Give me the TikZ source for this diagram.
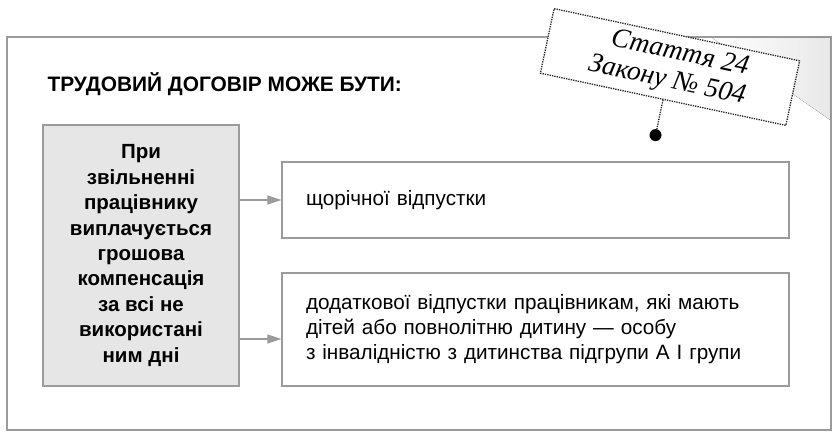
\documentclass[tikz,border=0pt]{standalone}
\usepackage{fontspec}
\setmainfont{Liberation Sans}
\newfontfamily\stampfont{Liberation Serif}
\usetikzlibrary{positioning}
\usetikzlibrary{arrows.meta,calc}
\definecolor{framegray}{RGB}{155,155,155}
\definecolor{boxgray}{RGB}{230,230,231}
\tikzset{
  frame/.style={draw=framegray, line width=1.3pt},
  leftbox/.style={frame, fill=boxgray, minimum width=196pt, minimum height=261pt,
    align=center, font=\fontsize{20.5}{25.4}\selectfont\bfseries},
  rightbox/.style={frame, fill=white, text width=459pt, inner xsep=24pt,
    align=left, font=\fontsize{20.7}{25}\selectfont},
  stampbox/.style={draw=black!85, line width=1.3pt, dash pattern=on 1.3pt off 1.1pt,
    fill=white, minimum width=251pt, minimum height=66pt, align=center,
    font=\fontsize{27.5}{29}\selectfont\stampfont\itshape},
  arr/.style={draw=framegray, line width=1.2pt, -{Triangle[length=14pt,width=9pt]}}
}
\begin{document}
\begin{tikzpicture}[x=1pt,y=-1pt]
  \useasboundingbox (0,0) rectangle (839,440);
  % outer frame and the shaded corner
  \draw[frame] (7,37) rectangle (831,430);
  \fill[left color=white, right color=black!9] (712,37.7) -- (830.3,37.7) -- (830.3,120) -- cycle;

  \node[anchor=west, font=\fontsize{20.9}{24}\selectfont\bfseries] (title) at (44,84)
    {ТРУДОВИЙ ДОГОВІР МОЖЕ БУТИ:};

  \node[leftbox] (comp) at (141,255.5)
    {При\\звільненні\\працівнику\\виплачується\\грошова\\компенсація\\за всі не\\використані\\ним дні};

  \node[rightbox, minimum height=76pt] (annual) at (535.5,200) {щорічної відпустки};
  \node[rightbox, minimum height=113pt] (extra) at (535.5,329.5)
    {додаткової відпустки працівникам, які мають\\дітей або повнолітню дитину — особу\\з інвалідністю з дитинства підгрупи А І групи};

  \draw[arr] (comp.east |- annual.west) -- (annual.west);
  \coordinate (inextra) at ([yshift=-9.5pt]extra.west);
  \draw[arr] (comp.east |- inextra) -- (inextra);

  % stamp with the pin
  \node[stampbox, rotate=-12] (law) at (670,67) {\hspace*{14pt}Стаття 24\\Закону № 504};
  \path (law.south) ++(-102:36pt) coordinate (pin);
  \draw[black!85, line width=1.3pt, dash pattern=on 1.3pt off 1.1pt] (law.south) -- (pin);
  \fill (pin) circle (6pt);
\end{tikzpicture}
\end{document}
